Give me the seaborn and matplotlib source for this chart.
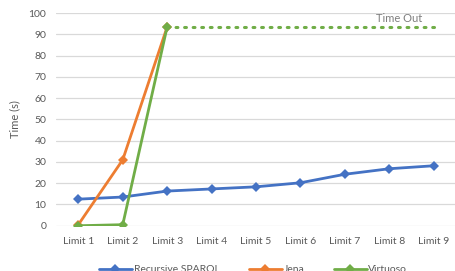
import numpy as np
import pandas as pd
import matplotlib.pyplot as plt
import seaborn as sns

# Dados
limites = ["Limit 1", "Limit 2", "Limit 3", "Limit 4", "Limit 5",
           "Limit 6", "Limit 7", "Limit 8", "Limit 9"]
recursive_sparql = [12.5, 13.5, 16.3, 17.3, 18.3, 20.2, 24.2, 26.8, 28.2]
jena = [0.5, 31.0, 93.5]
virtuoso = [0.0, 0.5, 93.5]
time_out = 93.5

CORES = {
    "Recursive SPARQL": "#4472C4",
    "Jena": "#ED7D31",
    "Virtuoso": "#70AD47",
}
CINZA = "#595959"

sns.set_theme(style="white")
plt.rcParams["font.family"] = ["Lato", "DejaVu Sans"]

linhas = []
for nome, vals in [("Recursive SPARQL", recursive_sparql),
                   ("Jena", jena), ("Virtuoso", virtuoso)]:
    for lim, v in zip(limites, vals):
        linhas.append({"limite": lim, "tempo": v, "serie": nome})
df = pd.DataFrame(linhas)
df["limite"] = pd.Categorical(df["limite"], categories=limites, ordered=True)

fig = plt.figure(figsize=(4.56, 2.71), dpi=100)
ax = fig.add_axes([0.123, 0.167, 0.877, 0.785])

sns.lineplot(data=df, x="limite", y="tempo", hue="serie", palette=CORES,
             hue_order=list(CORES), marker="D", markersize=5, markeredgewidth=0,
             linewidth=2.0, sort=False, ax=ax, zorder=3)

# linha pontilhada do "Time Out" (de Limit 3 até Limit 9)
pos_to = np.arange(2, len(limites))
ax.plot(pos_to, [time_out] * len(pos_to), color=CORES["Virtuoso"],
        linestyle=(0, (0.6, 2.2)), linewidth=2.2, dash_capstyle="round", zorder=2)

ax.set_xticks(range(len(limites)))
ax.set_xticklabels(limites)
ax.set_xlim(-0.5, len(limites) - 0.5)
ax.set_ylim(0, 100)
ax.set_yticks(range(0, 101, 10))
ax.grid(axis="y", color="#D9D9D9", linewidth=0.9)
ax.set_axisbelow(True)
for s in ax.spines.values():
    s.set_visible(False)
ax.tick_params(axis="both", length=0, labelsize=7.5, labelcolor=CINZA)
ax.tick_params(axis="x", pad=8)
ax.tick_params(axis="y", pad=7)
ax.set_xlabel("")
ax.set_ylabel("Time (s)", fontsize=8, color=CINZA, labelpad=6)

ax.text(6.7, 97.5, "Time Out", fontsize=8, color="#7F7F7F", ha="left", va="center")

handles, labels = ax.get_legend_handles_labels()
ax.legend_.remove()
fig.legend(handles, labels, loc="center", bbox_to_anchor=(0.555, 0.005),
           ncol=3, frameon=False, fontsize=7.5, handlelength=3.2,
           columnspacing=2.8, handletextpad=0.15, labelcolor=CINZA)

fig.savefig("out.png", dpi=100)
